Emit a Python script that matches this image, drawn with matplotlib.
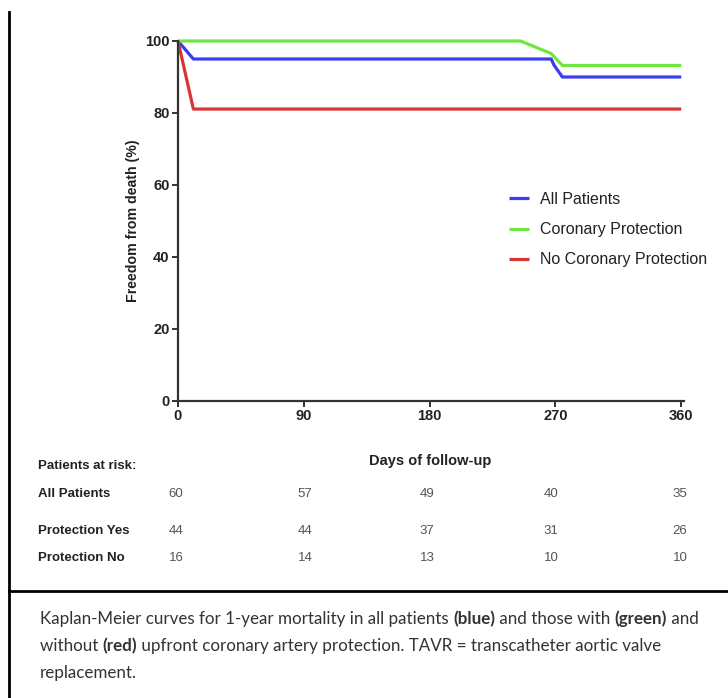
import matplotlib.pyplot as plt

# Kaplan-Meier curves (days, % freedom from death)
all_days = [0, 11, 267, 269, 275, 360]
all_surv = [100, 95, 95, 93.3, 90, 90]
yes_days = [0, 245, 267, 275, 360]
yes_surv = [100, 100, 96.5, 93.2, 93.2]
no_days = [0, 11, 360]
no_surv = [100, 81.1, 81.1]

series_labels = ['All Patients', 'Coronary Protection', 'No Coronary Protection']
series_colors = ['#3c3cf2', '#6fe640', '#d93535']

x_ticks = [0, 90, 180, 270, 360]
y_ticks = [0, 20, 40, 60, 80, 100]

risk_rows = ['All Patients', 'Protection Yes', 'Protection No']
risk_all = [60, 57, 49, 40, 35]
risk_yes = [44, 44, 37, 31, 26]
risk_no = [16, 14, 13, 10, 10]

W, H = 728, 698
fig = plt.figure(figsize=(W / 100, H / 100), dpi=100)
plt.rcParams['font.family'] = ['Liberation Sans', 'DejaVu Sans']

def fx(px):
    return px / W

def fy(py):
    return 1 - py / H

ax = fig.add_axes([fx(178), fy(401), fx(684) - fx(178), fy(41) - fy(401)])
for d, s, lab, c in zip([all_days, yes_days, no_days], [all_surv, yes_surv, no_surv],
                        series_labels, series_colors):
    ax.plot(d, s, color=c, lw=2.3, label=lab, clip_on=False, solid_capstyle='butt')

ax.set_xlim(0, 362)
ax.set_ylim(0, 100)
ax.set_xticks(x_ticks)
ax.set_yticks(y_ticks)
for s in ['top', 'right']:
    ax.spines[s].set_visible(False)
for s in ['left', 'bottom']:
    ax.spines[s].set_color('#333333')
    ax.spines[s].set_linewidth(1.6)
ax.tick_params(colors='#333333', width=1.4, length=4, labelsize=10.5, pad=2)
for t in ax.get_xticklabels() + ax.get_yticklabels():
    t.set_fontweight('bold')
    t.set_color('#222222')
ax.set_ylabel('Freedom from death (%)', fontsize=10.2, fontweight='bold', color='#222222', labelpad=4)

fig.text(fx(430), fy(461), 'Days of follow-up', fontsize=10.5, fontweight='bold',
         color='#222222', ha='center', va='center')

leg = fig.legend(loc='upper left', bbox_to_anchor=(fx(509), fy(192)), frameon=False,
                 fontsize=11.5, handlelength=1.25, handletextpad=0.7, labelspacing=0.95,
                 borderpad=0, borderaxespad=0)
for t in leg.get_texts():
    t.set_color('#222222')

# risk table
fig.text(fx(38), fy(466), 'Patients at risk:', fontsize=9.5, fontweight='bold', color='#222222', va='center')
row_y = [494, 531, 558]
col_x = [176, 305, 427, 551, 680]
for lab, vals, y in zip(risk_rows, [risk_all, risk_yes, risk_no], row_y):
    fig.text(fx(38), fy(y), lab, fontsize=9.5, fontweight='bold', color='#222222', va='center')
    for v, x in zip(vals, col_x):
        fig.text(fx(x), fy(y), str(v), fontsize=9.5, color='#555555', ha='center', va='center')

# frame lines
fig.add_artist(plt.Line2D([fx(9), fx(9)], [fy(12), 0], color='black', lw=2))
fig.add_artist(plt.Line2D([fx(9), 1], [fy(591), fy(591)], color='black', lw=2))

# caption with bold words
caption = [
    [('Kaplan-Meier curves for 1-year mortality in all patients ', 'normal'), ('(blue)', 'bold'),
     (' and those with ', 'normal'), ('(green)', 'bold'), (' and', 'normal')],
    [('without ', 'normal'), ('(red)', 'bold'),
     (' upfront coronary artery protection. TAVR = transcatheter aortic valve', 'normal')],
    [('replacement.', 'normal')],
]
cap_y = [619, 646, 673]
for parts, y in zip(caption, cap_y):
    prev = None
    for txt, w in parts:
        kw = dict(fontsize=12.25, fontweight=w, color='#333333', family=['Lato', 'DejaVu Sans'])
        if prev is None:
            prev = fig.text(fx(40), fy(y), txt, va='center', ha='left', **kw)
        else:
            prev = fig.add_artist(plt.Annotation(txt, xy=(1, 0), xycoords=prev,
                                                 va='bottom', ha='left', **kw))

fig.savefig('out.png', dpi=100)
